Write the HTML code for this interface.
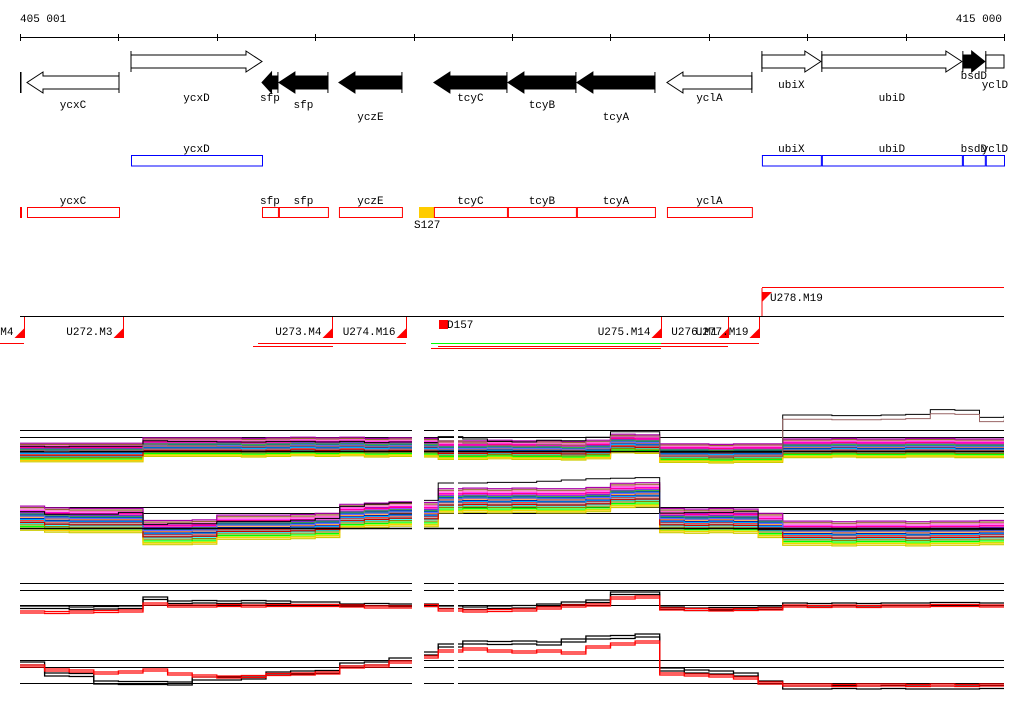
<!DOCTYPE html>
<html><head><meta charset="utf-8">
<style>
html,body{margin:0;padding:0;background:#fff;}
svg{display:block;font-family:"Liberation Mono","DejaVu Sans Mono",monospace;font-size:11px;}
</style></head>
<body>
<svg id="chart" width="1024" height="714" viewBox="0 0 1024 714" xmlns="http://www.w3.org/2000/svg">
<defs>
<clipPath id="gapclip"><rect x="20" y="380" width="392" height="330"/><rect x="424" y="380" width="30" height="330"/><rect x="458" y="380" width="546" height="330"/></clipPath>
</defs>
<text x="20" y="22">405 001</text>
<text x="1002" y="22" text-anchor="end">415 000</text>
<g id="scale"></g>
<g id="genes"></g>
<g id="blue"></g>
<g id="red"></g>
<g id="seg"></g>
<g id="panels" clip-path="url(#gapclip)"></g>
</svg>
<script>
const START=405001, END=415000;
const geneNames=["ycxC","ycxD","sfp","sfp","yczE","tcyC","tcyB","tcyA","yclA","ubiX","ubiD","bsdD","yclD"];
const geneStart=[405072,406129,407460,407632,408242,409207,409959,410660,411575,412540,413149,414582,414815];
const geneEnd=[406007,407460,407622,408130,408882,409949,410650,411453,412438,413139,414572,414805,415000];
const geneStrand=[-1,1,-1,-1,-1,-1,-1,-1,-1,1,1,1,1];
const geneFilled=[0,0,1,1,1,1,1,1,0,0,0,1,0];
const geneLabelDy=[1,0,0,1,2,0,1,2,0,0,1,-1,0];
const operonNames=["ycxD","ubiX","ubiD","bsdD","yclD"];
const operonIdx=[1,9,10,11,12];
const transcriptIdx=[0,2,3,4,5,6,7,8];
const segNames=[".M4","U272.M3","U273.M4","U274.M16","U275.M14","U276.M1","U277.M19"];
const segEnd=[405042,406047,408171,408923,411513,412194,412509];
// expression profiles (41 samples, every 250 bp)
const p1Center=[-0.2,-0.2,-0.2,-0.2,-0.2,0.7,0.7,0.7,0.7,0.6,0.7,0.8,0.7,0.8,0.6,0.7,0.6,0.2,0.2,0.3,0.2,0.2,0.1,0.3,1.3,1.2,-0.3,-0.3,-0.4,-0.3,-0.3,0.5,0.5,0.6,0.5,0.5,0.6,0.6,0.5,0.5,0.5];
const p1Top=[0.8,0.7,0.8,0.8,0.8,1.7,1.6,1.6,1.5,1.5,1.6,1.6,1.5,1.6,1.4,1.5,1.4,2.4,2.0,1.6,1.5,1.8,1.7,2.3,3.2,3.2,-0.2,-0.2,-0.2,-0.2,-0.2,6.0,6.0,5.9,5.9,6.0,6.1,6.9,6.8,5.6,5.9];
const p2Center=[1.7,1.4,1.3,1.3,1.3,-0.7,-0.7,-0.6,0.2,0.2,0.2,0.3,0.5,2.0,2.2,2.4,2.3,4.6,4.7,4.6,4.7,4.6,4.6,4.8,5.5,5.6,1.3,1.2,1.3,1.2,0.5,-0.8,-0.8,-0.9,-0.8,-0.8,-0.9,-0.8,-0.8,-0.7,-0.8];
const p2Top=[2.7,2.3,2.3,2.3,2.6,0.6,0.7,0.7,1.1,1.1,1.1,1.3,1.6,3.6,4.0,4.2,4.6,7.5,7.5,7.6,7.6,7.8,8.0,8.2,8.3,8.4,2.5,2.6,2.6,2.7,-0.3,-0.3,-0.3,-0.3,-0.3,-0.3,-0.3,-0.3,-0.3,-0.3,-0.3];
const p3Black=[-0.2,-0.2,-0.4,-0.3,-0.2,1.6,0.8,0.9,0.8,0.9,0.8,0.6,0.6,0.2,0.3,0.2,0.2,-0.2,-0.4,-0.2,-0.1,0.2,0.6,1.0,2.6,2.6,-0.4,-0.6,-0.5,-0.5,-0.4,0.4,0.3,0.4,0.3,0.4,0.4,0.5,0.5,0.4,0.3];
const p3Red=[-1.6,-1.7,-1.6,-1.5,-1.4,0.0,-0.4,-0.4,-0.3,-0.4,-0.3,-0.3,-0.3,-0.4,-0.6,-0.6,-0.3,-1.2,-1.4,-1.3,-1.2,-0.8,-0.4,-0.2,1.2,1.4,-1.0,-1.1,-1.2,-1.1,-1.0,-0.4,-0.5,-0.4,-0.5,-0.4,-0.4,-0.3,-0.3,-0.4,-0.5];
const p4Black=[4.2,2.0,1.9,0.4,0.3,0.3,0.2,1.2,1.2,1.4,2.2,2.4,2.5,4.0,4.2,5.0,6.2,7.8,8.4,8.3,8.4,8.2,8.8,9.4,9.5,9.8,3.0,2.6,2.4,2.0,0.4,-0.6,-0.6,-0.5,-0.6,-0.5,-0.6,-0.6,-0.6,-0.5,-0.6];
const p4Red=[3.6,2.8,2.6,2.2,2.4,2.8,2.0,1.6,1.4,1.5,1.9,2.0,2.2,3.4,3.6,4.4,5.4,6.6,7.0,6.6,6.4,6.6,6.2,7.4,8.0,8.4,2.0,1.8,1.6,1.2,0.2,-0.2,-0.2,-0.3,-0.2,-0.2,-0.3,-0.2,-0.3,-0.2,-0.3];
const bundleColors=["#ff0000","#0000ff","#00ff00","#ff00ff","#00ffff","#cccc00","#ff8800","#996633","#888888","#8800ff","#88ff00","#ff66cc","#000088","#008888","#888800","#ff0088","#00aaff","#aa00aa","#ffcc00","#44aa44","#cc0000","#6666ff"];
const bundleOffsets=[-0.3,0.4,-1.1,0.9,-0.7,-1.6,0.1,1.3,-0.5,0.6,-1.3,1.1,-0.1,0.3,-0.9,0.8,-0.2,1.5,-1.4,0.5,-0.6,0.2];

const NS="http://www.w3.org/2000/svg";
const X0=20, X1=1004;
function xOf(bp){return X0+(bp-START)/(END-START)*(X1-X0);}
function mk(tag,attrs,parent){const e=document.createElementNS(NS,tag);for(const k in attrs)e.setAttribute(k,attrs[k]);parent.appendChild(e);return e;}
const scaleG=document.getElementById('scale');
mk('line',{x1:X0,y1:37.5,x2:X1,y2:37.5,stroke:'#000'},scaleG);
for(let b=START-1;b<=END;b+=1000){const bp=Math.max(b,START);const x=Math.round(xOf(bp))+0.5;
 const t=mk('line',{x1:x,y1:34,x2:x,y2:41,stroke:'#000'},scaleG);
 
 }
// genes
const genesG=document.getElementById('genes');
const labelY=[101,108,120];
geneNames.forEach((n,i)=>{
 const a=xOf(geneStart[i]), b=xOf(geneEnd[i]);
 const fwd=geneStrand[i]>0;
 const yc=fwd?61.5:82.5; const h=6.5, hh=10.5; const head=Math.min(16,(b-a)*0.6);
 let pts;
 if(fwd) pts=[[a,yc-h],[b-head,yc-h],[b-head,yc-hh],[b,yc],[b-head,yc+hh],[b-head,yc+h],[a,yc+h]];
 else pts=[[b,yc-h],[a+head,yc-h],[a+head,yc-hh],[a,yc],[a+head,yc+hh],[a+head,yc+h],[b,yc+h]];
 if(i===12) pts=[[a,yc-h],[b,yc-h],[b,yc+h],[a,yc+h]];
 const g=mk('g',{},genesG);
 
 
 mk('polygon',{points:pts.map(p=>p.join(',')).join(' '),fill:geneFilled[i]?'#000':'#fff',stroke:'#000','stroke-width':1},g);
 const tail=fwd?a:b;
 mk('line',{x1:tail,y1:yc-hh,x2:tail,y2:yc+hh,stroke:'#000'},g);
 let ly, lx=(a+b)/2;
 if(fwd){ly=(i===9||i===12)?88:(i===11?79:101);}
 else ly=labelY[geneLabelDy[i]];
 const t=mk('text',{x:lx,y:ly,'text-anchor':'middle'},g); t.textContent=n;
});
mk('rect',{x:20,y:72,width:1.5,height:21,fill:'#000'},genesG);
// operons
const blueG=document.getElementById('blue');
operonIdx.forEach((gi,j)=>{
 const a=xOf(geneStart[gi]), b=xOf(geneEnd[gi]);
 const g=mk('g',{},blueG);
 
 
 mk('rect',{x:a+0.5,y:155.5,width:b-a,height:10.5,fill:'none',stroke:'#0000ff'},g);
 const t=mk('text',{x:(a+b)/2,y:152,'text-anchor':'middle'},g); t.textContent=operonNames[j];
});
// transcripts
const redG=document.getElementById('red');
mk('rect',{x:20,y:207,width:2,height:11,fill:'#ff0000'},redG);
mk('rect',{x:419,y:207,width:15,height:11,fill:'#ffcc00'},redG);
const s=mk('text',{x:414,y:228},redG); s.textContent='S127';
transcriptIdx.forEach(gi=>{
 const a=xOf(geneStart[gi]), b=xOf(geneEnd[gi]);
 const g=mk('g',{},redG);
 
 
 mk('rect',{x:a+0.5,y:207.5,width:b-a,height:10,fill:'none',stroke:'#ff0000'},g);
 const t=mk('text',{x:(a+b)/2,y:204,'text-anchor':'middle'},g); t.textContent=geneNames[gi];
});
// segments
const segG=document.getElementById('seg');
mk('line',{x1:20,y1:316.5,x2:1004,y2:316.5,stroke:'#000'},segG);
mk('line',{x1:762,y1:287.5,x2:1004,y2:287.5,stroke:'#ff0000'},segG);
mk('line',{x1:762,y1:288,x2:762,y2:316,stroke:'#ff0000'},segG);
mk('polygon',{points:'762,292 772,292 762,302',fill:'#ff0000'},segG);
const u=mk('text',{x:770,y:301},segG); u.textContent='U278.M19';
segNames.forEach((n,i)=>{
 const x=Math.round(xOf(segEnd[i]))+0.5;
 const g=mk('g',{},segG);
 
 
 mk('line',{x1:x,y1:317,x2:x,y2:338,stroke:'#ff0000'},g);
 mk('polygon',{points:`${x},328 ${x},338 ${x-10},338`,fill:'#ff0000'},g);
 const t=mk('text',{x:x-11,y:335,'text-anchor':'end'},g); t.textContent=n;
});
mk('rect',{x:439,y:320,width:9,height:9,fill:'#ff0000'},segG);
const d=mk('text',{x:447,y:328},segG); d.textContent='D157';
[[0,24,343,'#ff0000'],[258,406,343,'#ff0000'],[253,333,346,'#ff0000'],[431,661,343,'#00ff00'],[661,759,343,'#ff0000'],[431,661,348,'#ff0000'],[438,728,346,'#ff0000']].forEach(l=>{
 mk('line',{x1:l[0],y1:l[2]+0.5,x2:l[1],y2:l[2]+0.5,stroke:l[3],'stroke-width':1},segG);});
// panels
const panelsG=document.getElementById('panels');
function sx(k){return xOf(START+250*k);}
function linePath(vals,base,unit,off){
 let d='';vals.forEach((v,k)=>{const y=base-(v+off)*unit;
  d+=(k?'L':'M')+sx(k).toFixed(1)+','+y.toFixed(1);
  if(k<vals.length-1) d+='L'+sx(k+1).toFixed(1)+','+y.toFixed(1);});return d;}
function hlines(ys){ys.forEach(y=>mk('line',{x1:20,y1:y+0.5,x2:1004,y2:y+0.5,stroke:'#000'},panelsG));}
function bundle(center,base,unit,spread,name){
 bundleColors.forEach((c,i)=>{
  const p=mk('path',{d:linePath(center,base,unit,bundleOffsets[i]*spread),fill:'none',stroke:c,'stroke-width':1.2},panelsG);
  
  });
}
hlines([430,437]);
bundle(p1Center,451,6,1,'panel1');
mk('line',{x1:20,y1:451.5,x2:1004,y2:451.5,stroke:'#000','stroke-width':1.5},panelsG);
let pt=mk('path',{d:linePath(p1Top,451,6,0),fill:'none',stroke:'#000'},panelsG);


pt=mk('path',{d:linePath(p1Top,451,6,-0.7),fill:'none',stroke:'#996666'},panelsG);


hlines([507,513]);
bundle(p2Center,528,6,1.3,'panel2');
mk('line',{x1:20,y1:528.5,x2:1004,y2:528.5,stroke:'#000','stroke-width':1.5},panelsG);
pt=mk('path',{d:linePath(p2Top,528,6,0),fill:'none',stroke:'#000'},panelsG);


hlines([583,590]);
mk('line',{x1:20,y1:605.5,x2:1004,y2:605.5,stroke:'#000'},panelsG);
[[p3Black,0,'#000'],[p3Black,-0.5,'#000'],[p3Red,0,'#ff0000'],[p3Red,0.4,'#ff0000']].forEach((s,i)=>{
 const p=mk('path',{d:linePath(s[0],605,5,s[1]),fill:'none',stroke:s[2],'stroke-width':1.3},panelsG);
 
 });
hlines([660,667,683]);
[[p4Black,0,'#000'],[p4Black,-0.6,'#000'],[p4Red,0,'#ff0000'],[p4Red,-0.4,'#ff0000']].forEach((s,i)=>{
 const p=mk('path',{d:linePath(s[0],683,5,s[1]),fill:'none',stroke:s[2],'stroke-width':1.3},panelsG);
 
 });
</script>
</body></html>
